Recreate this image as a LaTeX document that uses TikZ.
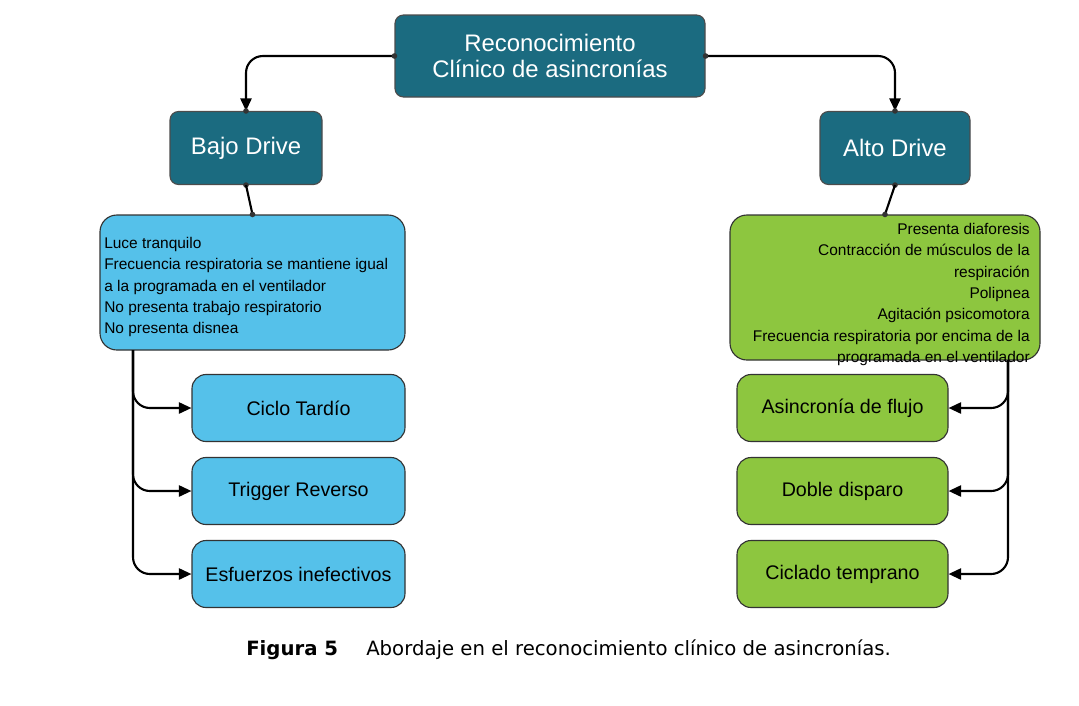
\documentclass[tikz,border=0pt]{standalone}
\usepackage{fontspec}
\setmainfont{Liberation Sans}
\newfontfamily\capfont{DejaVu Sans}
\usetikzlibrary{arrows.meta}
\definecolor{tealD}{HTML}{1B6B80}
\definecolor{blueL}{HTML}{55C1EA}
\definecolor{greenL}{HTML}{8DC63F}
\begin{document}
\begin{tikzpicture}[x=0.025cm,y=-0.025cm,
  head/.style={draw=black!70,thick,fill=tealD,rounded corners=6pt,text=white,font=\fontsize{17}{19}\selectfont,align=center,inner sep=0pt},
  info/.style={draw=black!80,thick,rounded corners=12pt,inner sep=0pt},
  leaf/.style={draw=black!80,thick,rounded corners=10pt,inner sep=0pt,font=\fontsize{14}{16}\selectfont},
  link/.style={line width=1.5pt,-{Triangle[length=9pt,width=8pt]},rounded corners=12pt},
  dot/.style={circle,fill=black!80,inner sep=0pt,minimum size=4pt}]
\useasboundingbox (0,0) rectangle (1079,705);
% top
\node[head,minimum width=310*0.025cm,minimum height=82*0.025cm] (root) at (550,56) {Reconocimiento\\Clínico de asincronías};
\node[head,minimum width=152*0.025cm,minimum height=73*0.025cm] (bajo) at (246,148) {Bajo Drive};
\node[head,minimum width=150*0.025cm,minimum height=73*0.025cm] (alto) at (895,148) {Alto Drive};
\draw[link] (root.west) -| (bajo.north);
\draw[link] (root.east) -| (alto.north);
\foreach \p in {root.west,root.east,bajo.north,alto.north,bajo.south,alto.south}
  \node[dot] at (\p) {};
% info boxes
\node[info,fill=blueL,minimum width=305*0.025cm,minimum height=135*0.025cm] (sBajo) at (252.5,282.5) {};
\node[anchor=north west,align=left,inner sep=0pt,font=\fontsize{11}{15.2}\selectfont] (tBajo) at (104,237) {Luce tranquilo\\Frecuencia respiratoria se mantiene igual\\a la programada en el ventilador\\No presenta trabajo respiratorio\\No presenta disnea};
\node[info,fill=greenL,minimum width=310*0.025cm,minimum height=145*0.025cm] (sAlto) at (885,287.5) {};
\node[anchor=north east,align=right,inner sep=0pt,font=\fontsize{11}{15.2}\selectfont] (tAlto) at (1030,223) {Presenta diaforesis\\Contracción de músculos de la\\respiración\\Polipnea\\Agitación psicomotora\\Frecuencia respiratoria por encima de la\\programada en el ventilador};
\draw[line width=1.5pt] (bajo.south) -- (sBajo.north);
\draw[line width=1.5pt] (alto.south) -- (sAlto.north);
\node[dot] at (sBajo.north) {};
\node[dot] at (sAlto.north) {};
% leaves
\foreach \n/\y/\t in {ciclo/408/Ciclo Tardío,trig/491/Trigger Reverso,esf/574/Esfuerzos inefectivos}{
  \node[leaf,fill=blueL,minimum width=213*0.025cm,minimum height=67*0.025cm] (\n) at (298.5,\y) {\t};
  \draw[link] (133,350) |- (\n.west);}
\foreach \n/\y/\t in {flujo/408/Asincronía de flujo,doble/491/Doble disparo,temp/574/Ciclado temprano}{
  \node[leaf,fill=greenL,minimum width=211*0.025cm,minimum height=67*0.025cm] (\n) at (842.5,\y) {\t};
  \draw[link] (1008,360) |- (\n.east);}
% caption
\node[anchor=west,inner sep=0pt,font=\capfont\fontsize{14}{16}\selectfont] (cap) at (246,650) {\textbf{Figura 5}\hspace{20pt}Abordaje en el reconocimiento clínico de asincronías.};
\end{tikzpicture}
\end{document}
